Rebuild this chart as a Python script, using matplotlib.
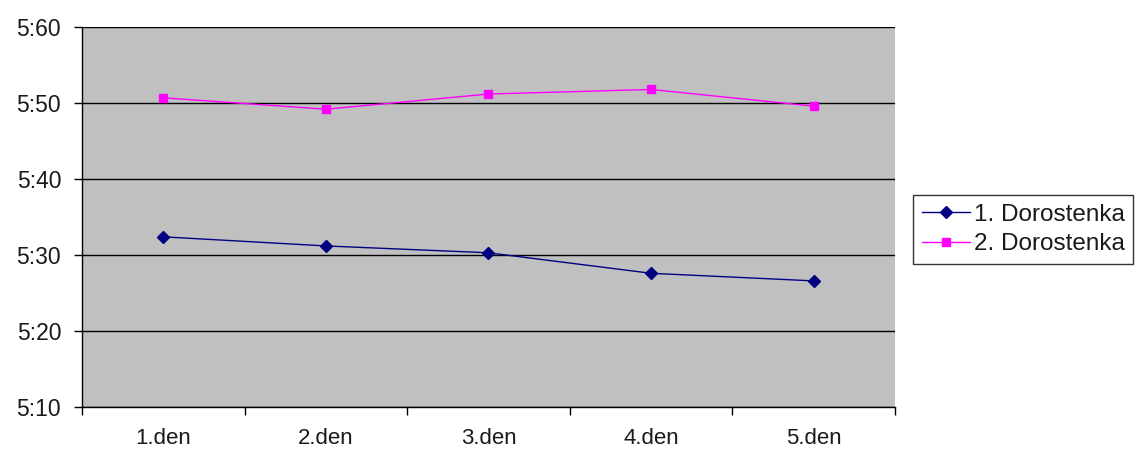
import matplotlib.pyplot as plt
from matplotlib.ticker import FuncFormatter, FixedLocator
import numpy as np

plt.rcParams['font.family'] = ['Liberation Sans', 'DejaVu Sans']

days = ["1.den", "2.den", "3.den", "4.den", "5.den"]
# seconds after 5 min
dor1 = [32.4, 31.2, 30.3, 27.6, 26.6]
dor2 = [50.7, 49.2, 51.2, 51.8, 49.6]
series_names = ["1. Dorostenka", "2. Dorostenka"]

fig = plt.figure(figsize=(11.37, 4.5), dpi=100)
ax = fig.add_axes([0.0721, 0.0956, 0.715, 0.844])
ax.set_facecolor('#C0C0C0')

x = np.arange(len(days))
ax.plot(x, dor1, color='#000080', lw=1, marker='D', ms=6.5, label=series_names[0])
ax.plot(x, dor2, color='#FF00FF', lw=1, marker='s', ms=6, label=series_names[1])

ax.set_xlim(-0.5, len(days) - 0.5)
ax.set_ylim(10, 60)
ax.set_yticks(np.arange(10, 61, 10))
ax.yaxis.set_major_formatter(FuncFormatter(lambda v, p: "5:%d" % v))
ax.grid(axis='y', color='black', lw=1)
ax.set_axisbelow(True)

ax.xaxis.set_major_locator(FixedLocator(np.arange(-0.5, len(days), 1.0)))
ax.xaxis.set_major_formatter(FuncFormatter(lambda v, p: ""))
ax.xaxis.set_minor_locator(FixedLocator(x))
ax.set_xticklabels(days, minor=True)
ax.tick_params(axis='x', which='minor', length=0, pad=15, labelsize=16, labelcolor='#1a1a1a')
ax.tick_params(axis='x', which='major', length=6, width=1, color='black')
ax.tick_params(axis='y', length=6, width=1, color='black', labelsize=16.5, pad=9, labelcolor='#1a1a1a')

for s in ['top', 'right']:
    ax.spines[s].set_visible(False)
for s in ['left', 'bottom']:
    ax.spines[s].set_color('black')
    ax.spines[s].set_linewidth(1)

leg = fig.legend(loc='center left', bbox_to_anchor=(0.803, 0.49), fontsize=17.5,
                 frameon=True, fancybox=False, edgecolor='black',
                 handlelength=2.0, handletextpad=0.15, borderpad=0.35, labelspacing=0.3,
                 borderaxespad=0)
leg.get_frame().set_linewidth(1)
for t in leg.get_texts():
    t.set_color('#1a1a1a')

fig.savefig('out.png', dpi=100)
